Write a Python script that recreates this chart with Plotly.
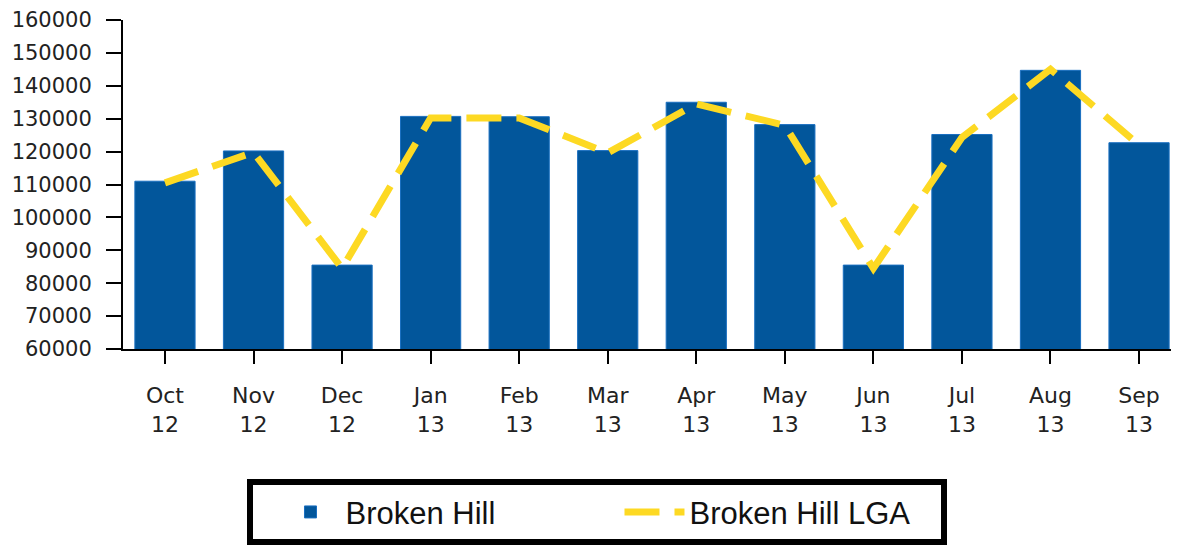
import plotly.graph_objects as go

months = ["Oct<br>12", "Nov<br>12", "Dec<br>12", "Jan<br>13", "Feb<br>13", "Mar<br>13",
          "Apr<br>13", "May<br>13", "Jun<br>13", "Jul<br>13", "Aug<br>13", "Sep<br>13"]
broken_hill = [111000, 120200, 85500, 130700, 130600, 120300,
               135000, 128200, 85500, 125200, 144700, 122700]
broken_hill_lga = [110500, 119800, 84500, 130200, 130200, 119600,
                   134500, 128000, 84500, 124300, 145000, 122000]

fig = go.Figure()
fig.add_trace(go.Bar(
    x=months, y=broken_hill, name="Broken Hill",
    marker=dict(color="#02569b", line=dict(color="#1a6fc0", width=1)),
))
fig.add_trace(go.Scatter(
    x=months, y=broken_hill_lga, name="Broken Hill LGA", mode="lines",
    line=dict(color="#fdd923", width=7, dash="35px,15px"),
))

fig.update_xaxes(
    range=[-0.474, 11.44], showline=True, linecolor="black", linewidth=2,
    ticks="outside", ticklen=13, tickwidth=2, tickcolor="black",
    tickfont=dict(family="DejaVu Sans", size=22, color="#222"),
    ticklabelstandoff=13, showgrid=False, zeroline=False,
)
fig.update_yaxes(
    range=[60000, 160000], dtick=10000, tickformat="d",
    showline=True, linecolor="black", linewidth=2,
    ticks="outside", ticklen=15, tickwidth=2, tickcolor="black",
    tickfont=dict(family="DejaVu Sans", size=21, color="#222"),
    ticklabelstandoff=10, showgrid=False, zeroline=False,
)
# page body has an 8px margin, so the figure is sized/offset to land on the window
fig.update_layout(
    width=1171, height=553,
    margin=dict(l=115, r=1, t=12, b=212),
    plot_bgcolor="white", paper_bgcolor="white",
    bargap=0.32,
    legend=dict(
        orientation="h", x=0.118, y=-0.396, xanchor="left", yanchor="top",
        bordercolor="black", borderwidth=6, itemwidth=60, entrywidth=247,
        indentation=22,
        font=dict(family="Liberation Sans", size=31, color="#111"),
    ),
)

fig.write_html("out.html")
